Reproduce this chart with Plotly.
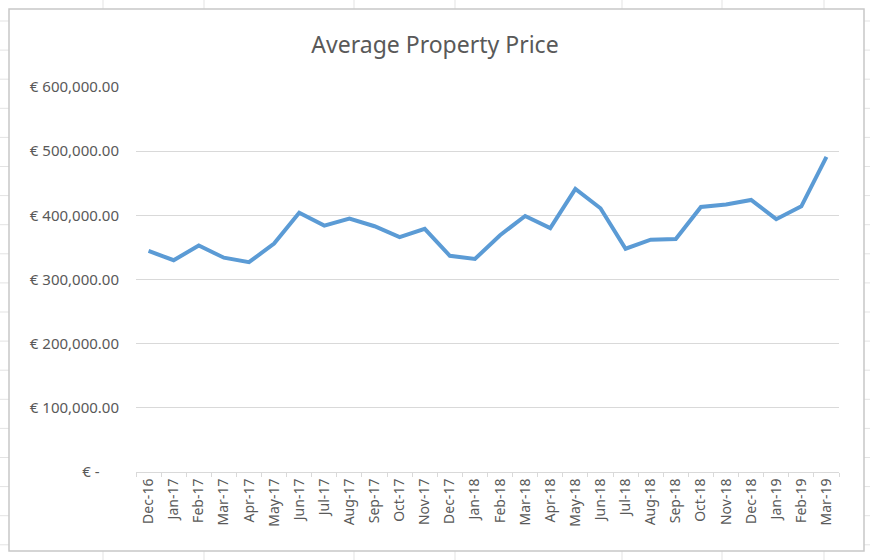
import plotly.graph_objects as go

# monthly average property price
months = ["Dec-16", "Jan-17", "Feb-17", "Mar-17", "Apr-17", "May-17", "Jun-17",
          "Jul-17", "Aug-17", "Sep-17", "Oct-17", "Nov-17", "Dec-17", "Jan-18",
          "Feb-18", "Mar-18", "Apr-18", "May-18", "Jun-18", "Jul-18", "Aug-18",
          "Sep-18", "Oct-18", "Nov-18", "Dec-18", "Jan-19", "Feb-19", "Mar-19"]
prices = [344500, 330000, 353000, 334000, 327000, 356000, 404000,
          384000, 395000, 383000, 366000, 379000, 337000, 332000,
          369000, 399000, 380000, 441000, 411000, 348000, 362000,
          363000, 413000, 417000, 424000, 394000, 414000, 491000]
y_ticks = [0, 100000, 200000, 300000, 400000, 500000, 600000]
y_labels = ["€ -\u00a0\u00a0\u00a0\u00a0\u00a0", "€ 100,000.00", "€ 200,000.00", "€ 300,000.00",
            "€ 400,000.00", "€ 500,000.00", "€ 600,000.00"]

W, H = 870, 560
L, R, T, B = 136, 31, 87, 88
GREY = "#d9d9d9"
TEXT = "#595959"


def px(x):
    # pixel -> paper x
    return (x - L) / (W - L - R)


def py(y):
    # pixel -> paper y
    return (H - B - y) / (H - T - B)


fig = go.Figure(go.Scatter(x=months, y=prices, mode="lines",
                           line=dict(color="#5b9bd5", width=4),
                           hoverinfo="x+y"))

# spreadsheet cells behind the chart, and the chart frame
shapes = []
for gx in [103, 204, 354, 455, 622, 722, 824]:
    shapes.append(dict(type="line", xref="paper", yref="paper", layer="below",
                       x0=px(gx), x1=px(gx), y0=py(H), y1=py(0),
                       line=dict(color="#e3e3e3", width=1)))
for i in range(20):
    gy = 21 + i * 29.1
    shapes.append(dict(type="line", xref="paper", yref="paper", layer="below",
                       x0=px(0), x1=px(W), y0=py(gy), y1=py(gy),
                       line=dict(color="#e3e3e3", width=1)))
shapes.append(dict(type="rect", xref="paper", yref="paper", layer="below",
                   x0=px(9), x1=px(864), y0=py(551), y1=py(9),
                   fillcolor="white", line=dict(color="#c8c8c8", width=1.5)))

fig.update_layout(
    width=W, height=H,
    margin=dict(l=L, r=R, t=T, b=B),
    paper_bgcolor="white", plot_bgcolor="rgba(0,0,0,0)",
    font=dict(family="Noto Sans, Open Sans, sans-serif", color=TEXT, size=15),
    title=dict(text="Average Property Price", x=435 / W, xref="container", xanchor="center",
               y=1 - 45 / H, yref="container", yanchor="middle",
               font=dict(size=23, color=TEXT)),
    showlegend=False,
    shapes=shapes,
    xaxis=dict(type="category", tickangle=-90, tickson="boundaries",
               ticks="outside", ticklen=4, tickcolor=GREY,
               showline=True, linecolor=GREY, linewidth=1,
               showgrid=False, tickfont=dict(size=14, color=TEXT),
               range=[-0.5, len(months) - 0.5]),
    yaxis=dict(range=[0, 600000], tickvals=y_ticks, ticktext=y_labels,
               showgrid=True, gridcolor=GREY, gridwidth=1,
               zeroline=False, ticks="", ticklen=0, ticklabelstandoff=16,
               tickfont=dict(size=15, color=TEXT)),
)

# the page body has a default margin that would push the figure off the window
fig.write_html("out.html", config={"displayModeBar": False},
               post_script="document.body.style.margin='0';")
